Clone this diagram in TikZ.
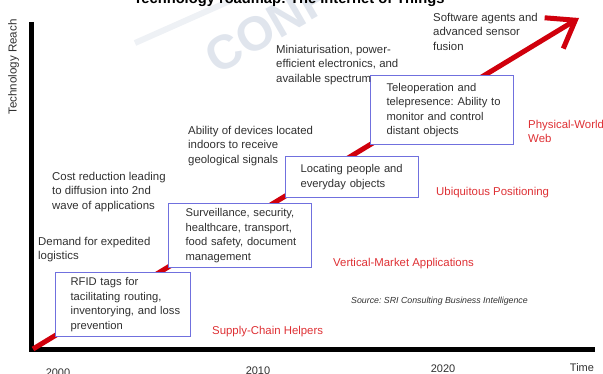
\documentclass[tikz,border=0pt]{standalone}
\usepackage{fontspec}
\setmainfont{Liberation Sans}
\usetikzlibrary{arrows.meta}
\frenchspacing

\definecolor{trendred}{RGB}{208,0,12}
\definecolor{phasered}{RGB}{222,48,52}
\definecolor{boxblue}{RGB}{112,112,222}
\definecolor{inkgray}{RGB}{48,48,48}
\definecolor{markband}{RGB}{238,241,245}
\definecolor{markfill}{RGB}{224,229,237}

\tikzset{
  axisline/.style={line width=5pt, line join=miter},
  trend/.style={draw=trendred, line width=5pt,
    -{Straight Barb[length=25pt,width=36pt]}},
  note/.style={anchor=north west, inner sep=0pt, align=left, text=inkgray,
    font=\fontsize{11.4}{14.5}\selectfont},
  phase/.style={anchor=north west, inner sep=0pt, align=left, text=phasered,
    font=\fontsize{11.4}{14.5}\selectfont},
  stagebox/.style={draw=boxblue, line width=1.2pt, fill=white,
    anchor=north west, inner ysep=0pt, align=left, text=inkgray,
    font=\fontsize{11.2}{14.5}\selectfont},
  yearlabel/.style={anchor=base, inner sep=0pt, text=inkgray,
    font=\fontsize{11}{13}\selectfont},
}

\begin{document}
\begin{tikzpicture}[x=1pt,y=-1pt]
\useasboundingbox (0,0) rectangle (603,374);
\clip (0,0) rectangle (603,374);

% faint watermark
\draw[markband, line width=6pt] (135,43) -- (232,0);
\node[rotate=30, text=markfill, font=\fontsize{48}{48}\selectfont\bfseries]
  (mark) at (268,27) {CONF};

% title
\node[anchor=base, inner sep=0pt, font=\fontsize{14.7}{16}\selectfont\bfseries]
  (title) at (289,4) {Technology roadmap: The Internet of Things};

% axes
\coordinate (ytop) at (31.5,22);
\coordinate (origin) at (31.5,350);
\coordinate (xend) at (595,350);
\draw[axisline] (ytop) -- (origin) -- (xend);

\node[rotate=90, anchor=base, inner sep=0pt, text=inkgray,
  font=\fontsize{11.6}{13}\selectfont] (ylabel) at (16.5,67) {Technology Reach};

\node[yearlabel] (y2000) at (58,377) {2000};
\node[yearlabel] (y2010) at (258,374) {2010};
\node[yearlabel] (y2020) at (443,372) {2020};
\node[yearlabel] (time) at (582,371) {Time};

% growth trend
\coordinate (start) at (33,349);
\coordinate (tip) at (579,18);
\draw[trend] (start) -- (tip);

% stage boxes (one unbroken line per row)
\node[stagebox, inner xsep=15pt, text width=105pt, minimum height=64pt]
  (rfid) at (55,272) {\mbox{RFID tags for}\\\mbox{tacilitating routing,}\\
  \mbox{inventorying, and loss}\\\mbox{prevention}};
\node[stagebox, inner xsep=17pt, text width=109pt, minimum height=64pt]
  (surv) at (168,203) {\mbox{Surveillance, security,}\\\mbox{healthcare, transport,}\\
  \mbox{food safety, document}\\\mbox{management}};
\node[stagebox, inner xsep=15pt, text width=103pt, minimum height=41pt]
  (locate) at (285,156) {\mbox{Locating people and}\\\mbox{everyday objects}};
\node[stagebox, inner xsep=16pt, text width=111pt, minimum height=69pt]
  (tele) at (370,75) {\mbox{Teleoperation and}\\\mbox{telepresence: Ability to}\\
  \mbox{monitor and control}\\\mbox{distant objects}};

% drivers
\node[note] (demand) at (38,237) {Demand for expedited\\logistics};
\node[note] (cost) at (52,172) {Cost reduction leading\\to diffusion into 2nd\\wave of applications};
\node[note] (indoor) at (188,126) {Ability of devices located\\indoors to receive\\geological signals};
\node[note] (mini) at (276,45) {Miniaturisation, power-\\efficient electronics, and\\available spectrum};
\node[note] (agents) at (433,13) {Software agents and\\advanced sensor\\fusion};

% phases
\node[phase] (supply) at (212,326) {Supply-Chain Helpers};
\node[phase] (vertical) at (333,258) {Vertical-Market Applications};
\node[phase] (ubiq) at (436,187) {Ubiquitous Positioning};
\node[phase] (physical) at (528,120) {Physical-World\\Web};

\node[anchor=north west, inner sep=0pt, text=inkgray,
  font=\fontsize{8.8}{10}\selectfont\itshape]
  (source) at (351,297) {Source: SRI Consulting Business Intelligence};
\end{tikzpicture}
\end{document}
